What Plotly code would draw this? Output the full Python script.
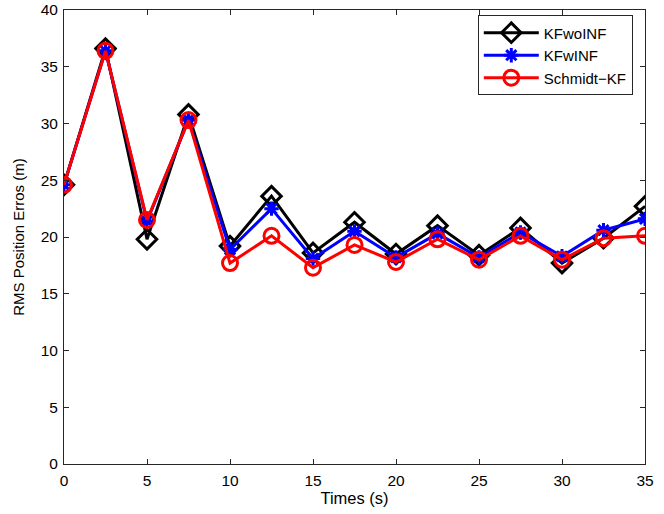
import plotly.graph_objects as go

# Sample times (s)
times = [0, 2.5, 5, 7.5, 10, 12.5, 15, 17.5, 20, 22.5, 25, 27.5, 30, 32.5, 35]

# RMS position errors (m) for each filter
kf_wo_inf = [24.6, 36.6, 19.8, 30.8, 19.2, 23.6, 18.6, 21.3, 18.5, 21.0, 18.4, 20.8, 17.7, 19.9, 22.7]
kf_w_inf = [24.6, 36.4, 21.4, 30.3, 18.9, 22.5, 18.1, 20.5, 18.2, 20.3, 18.2, 20.4, 18.3, 20.6, 21.6]
schmidt_kf = [24.6, 36.4, 21.5, 30.3, 17.7, 20.1, 17.3, 19.3, 17.8, 19.8, 18.0, 20.1, 18.0, 19.9, 20.1]

series_names = ["KFwoINF", "KFwINF", "Schmidt\u2212KF"]

FONT = "Liberation Sans, Arial, Helvetica, sans-serif"

fig = go.Figure()
fig.add_trace(go.Scatter(
    x=times, y=kf_wo_inf, name=series_names[0], mode="lines+markers",
    line=dict(color="black", width=3),
    marker=dict(symbol="diamond-open", size=15, color="black", line=dict(width=3, color="black")),
))
fig.add_trace(go.Scatter(
    x=times, y=kf_w_inf, name=series_names[1], mode="lines+markers",
    line=dict(color="blue", width=3),
    marker=dict(symbol="asterisk-open", size=12, color="blue", line=dict(width=3, color="blue")),
))
fig.add_trace(go.Scatter(
    x=times, y=schmidt_kf, name=series_names[2], mode="lines+markers",
    line=dict(color="red", width=3),
    marker=dict(symbol="circle-open", size=15, color="red", line=dict(width=3, color="red")),
))

axis_common = dict(
    showline=True, linecolor="#262626", linewidth=1, mirror="allticks",
    ticks="inside", ticklen=5, tickwidth=1, tickcolor="#262626",
    showgrid=False, zeroline=False, ticklabeloverflow="allow", automargin=False,
    tickfont=dict(family=FONT, size=15.5, color="black"),
)

fig.update_layout(
    width=664, height=514,
    margin=dict(l=64, r=19, t=10, b=50),
    paper_bgcolor="white", plot_bgcolor="white",
    font=dict(family=FONT, color="black"),
    xaxis=dict(range=[0, 35], tickmode="array", tickvals=[0, 5, 10, 15, 20, 25, 30, 35],
               ticklabelstandoff=2,
               title=dict(text="Times (s)", font=dict(family=FONT, size=16.5), standoff=1),
               **axis_common),
    yaxis=dict(range=[0, 40], tickmode="array", tickvals=[0, 5, 10, 15, 20, 25, 30, 35, 40],
               ticklabelstandoff=2,
               title=dict(text="RMS Position Erros (m)", font=dict(family=FONT, size=15), standoff=12),
               **axis_common),
    legend=dict(
        x=0.979, y=0.988, xanchor="right", yanchor="top",
        bgcolor="white", bordercolor="#262626", borderwidth=1,
        font=dict(family=FONT, size=15, color="black"),
        tracegroupgap=0, itemwidth=55,
    ),
    showlegend=True,
)

fig.write_html("out.html")
